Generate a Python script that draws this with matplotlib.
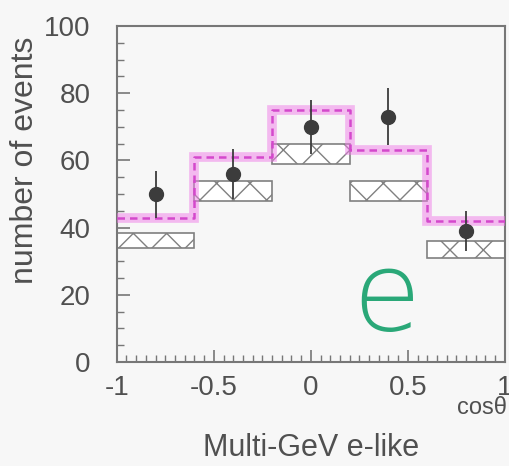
import matplotlib
matplotlib.use("Agg")
import matplotlib.pyplot as plt
from matplotlib.ticker import MultipleLocator, FixedLocator, FixedFormatter
import numpy as np

plt.rcParams['font.family'] = ['Liberation Sans', 'DejaVu Sans']

# data
bin_edges = [-1.0, -0.6, -0.2, 0.2, 0.6, 1.0]
mc_osc = [43, 61, 75, 63, 42]          # magenta band (oscillated MC)
box_low = [34, 48, 59, 48, 31]          # hatched box lower edge
box_high = [38.5, 54, 65, 54, 36]       # hatched box upper edge
data_x = [-0.8, -0.4, 0.0, 0.4, 0.8]
data_y = [50, 56, 70, 73, 39]
data_err = [7, 7.5, 8, 8.5, 6]
xtick_vals = [-1, -0.5, 0, 0.5, 1]
xtick_labels = ['-1', '-0.5', '0', '0.5', '1']
ytick_vals = [0, 20, 40, 60, 80, 100]

bg = '#f7f7f7'
tc = '#505050'
fig = plt.figure(figsize=(5.10, 4.66), dpi=100, facecolor=bg)
ax = fig.add_axes([0.229, 0.223, 0.761, 0.721], facecolor=bg)

# hatched boxes
for i in range(len(box_low)):
    ax.bar(bin_edges[i], box_high[i] - box_low[i], width=bin_edges[i+1] - bin_edges[i],
           bottom=box_low[i], align='edge', facecolor='white', edgecolor='#808080',
           hatch='x', linewidth=1.2, zorder=2)

# magenta band
ys = mc_osc + [mc_osc[-1]]
ax.step(bin_edges, ys, where='post', color='#f07ce8', alpha=0.5, linewidth=7, zorder=3,
        solid_joinstyle='miter')
ax.step(bin_edges, ys, where='post', color='#d448cc', linewidth=1.8, linestyle=(0, (3, 2)),
        zorder=4)

# data points
ax.errorbar(data_x, data_y, yerr=data_err, fmt='o', color='#3c3c3c', markersize=10,
            elinewidth=1.3, capsize=0, zorder=5)

ax.set_xlim(-1, 1)
ax.set_ylim(0, 100)
ax.xaxis.set_major_locator(FixedLocator(xtick_vals))
ax.xaxis.set_major_formatter(FixedFormatter(xtick_labels))
ax.xaxis.set_minor_locator(MultipleLocator(0.05))
ax.yaxis.set_major_locator(FixedLocator(ytick_vals))
ax.yaxis.set_minor_locator(MultipleLocator(5))
ax.tick_params(axis='both', which='both', direction='in', colors='#777777', labelcolor=tc)
ax.tick_params(axis='both', which='major', length=9, width=1.2, labelsize=20)
ax.tick_params(axis='both', which='minor', length=5, width=1.0)
ax.tick_params(axis='y', which='major', pad=19)
ax.tick_params(axis='x', which='major', pad=9)
for s in ax.spines.values():
    s.set_color('#777777')
    s.set_linewidth(1.5)

fig.text(0.05, 0.657, 'number of events', rotation=90, ha='center', va='center',
         fontsize=23, color=tc)
fig.text(0.61, 0.038, 'Multi-GeV e-like', ha='center', va='center', fontsize=22, color=tc)
fig.text(0.945, 0.124, 'cos\u03b8', ha='center', va='center', fontsize=17, color=tc)

ax.text(0.39, 18.5, 'e', fontsize=80, color='#2aa878', ha='center', va='center',
        family='DejaVu Sans', fontweight='light', zorder=6)

fig.savefig('out.png', dpi=100, facecolor=bg)
